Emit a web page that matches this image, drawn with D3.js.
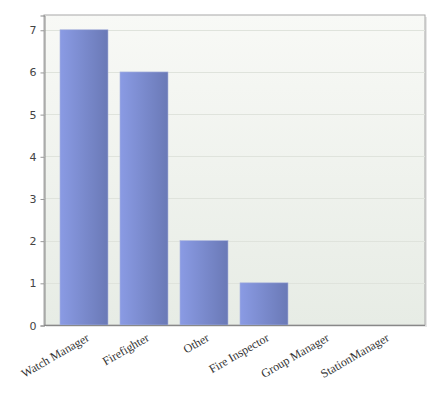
<!DOCTYPE html>
<html>
<head>
<meta charset="utf-8">
<script src="https://cdn.jsdelivr.net/npm/d3@7"></script>
<style>
  body { margin: 0; background: #fff; }
  .ytick text { font-family: "DejaVu Sans", sans-serif; font-size: 11px; fill: #444; }
  .xlabel { font-family: "Liberation Serif", serif; font-size: 12px; fill: #333; }
</style>
</head>
<body>
<div id="chart"></div>
<script>
// data
const categories = ['Watch Manager', 'Firefighter', 'Other', 'Fire Inspector', 'Group Manager', 'StationManager'];
const counts = [7, 6, 2, 1, 0, 0];
const yTicks = [0, 1, 2, 3, 4, 5, 6, 7];

const width = 440, height = 400;
const plot = { left: 44, top: 15, right: 425, bottom: 325 };

const svg = d3.select('#chart').append('svg')
    .attr('width', width)
    .attr('height', height);

const defs = svg.append('defs');
// plot background, light at the top, slightly greener at the bottom
const bg = defs.append('linearGradient').attr('id', 'bgGrad')
    .attr('x1', 0).attr('y1', 0).attr('x2', 0).attr('y2', 1);
bg.append('stop').attr('offset', '0%').attr('stop-color', '#f8f9f6');
bg.append('stop').attr('offset', '100%').attr('stop-color', '#e7ece5');

// bar fill, lighter on the left
const barGrad = defs.append('linearGradient').attr('id', 'barGrad')
    .attr('x1', 0).attr('y1', 0).attr('x2', 1).attr('y2', 0);
barGrad.append('stop').attr('offset', '0%').attr('stop-color', '#8a9be4');
barGrad.append('stop').attr('offset', '100%').attr('stop-color', '#6a79b6');

let x = d3.scaleBand()
    .domain(categories)
    .range([54, 414])
    .paddingInner(0.2)
    .paddingOuter(0.1);

let y = d3.scaleLinear()
    .domain([0, 7.35])
    .range([plot.bottom, plot.top]);

// shadow behind the plot frame
svg.append('rect')
    .attr('x', plot.left + 2).attr('y', plot.top + 2)
    .attr('width', plot.right - plot.left).attr('height', plot.bottom - plot.top)
    .attr('fill', '#e6e6e6');

svg.append('rect')
    .attr('x', plot.left).attr('y', plot.top)
    .attr('width', plot.right - plot.left).attr('height', plot.bottom - plot.top)
    .attr('fill', 'url(#bgGrad)')
    .attr('stroke', '#a8a8a8')
    .attr('stroke-width', 1);

// gridlines
svg.append('g').selectAll('line')
    .data(yTicks.filter(d => d > 0))
    .enter().append('line')
    .attr('x1', plot.left).attr('x2', plot.right)
    .attr('y1', d => Math.round(y(d)) + 0.5)
    .attr('y2', d => Math.round(y(d)) + 0.5)
    .attr('stroke', '#dfe3dc')
    .attr('stroke-width', 1);

// bars
svg.append('g').selectAll('rect')
    .data(counts)
    .enter().append('rect')
    .attr('x', (d, i) => x(categories[i]))
    .attr('y', d => y(d))
    .attr('width', x.bandwidth())
    .attr('height', d => plot.bottom - y(d))
    .attr('fill', 'url(#barGrad)')
    .attr('stroke', d => d > 0 ? '#aab4dc' : 'none')
    .attr('stroke-width', 0.6);

// y axis
const yAxis = svg.append('g')
    .attr('class', 'ytick')
    .attr('transform', 'translate(' + (plot.left + 0.5) + ',0.5)')
    .call(d3.axisLeft(y).tickValues(yTicks).tickSize(4).tickPadding(4).tickFormat(d3.format('d')));
yAxis.select('.domain').attr('stroke', '#888');
yAxis.selectAll('.tick line').attr('stroke', '#999');

// x axis line
svg.append('line')
    .attr('x1', plot.left).attr('x2', plot.right)
    .attr('y1', plot.bottom + 0.5).attr('y2', plot.bottom + 0.5)
    .attr('stroke', '#888');

// rotated category labels
svg.append('g').selectAll('text')
    .data(categories)
    .enter().append('text')
    .attr('class', 'xlabel')
    .attr('text-anchor', 'end')
    .attr('transform', d => 'translate(' + (x(d) + x.bandwidth() / 2 + 6) + ',' + (plot.bottom + 15) + ') rotate(-30)')
    .text(d => d);
</script>
</body>
</html>
